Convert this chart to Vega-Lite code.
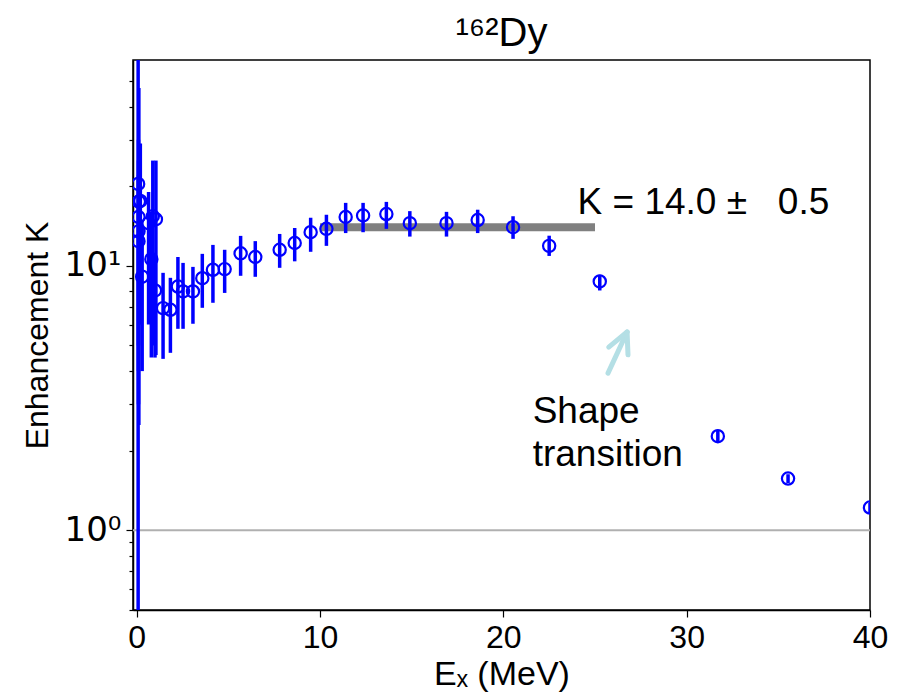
{
  "$schema": "https://vega.github.io/schema/vega-lite/v6.json",
  "autosize": "none",
  "width": 737,
  "height": 550,
  "padding": {"left": 133, "top": 60, "right": 32, "bottom": 85},
  "background": "white",
  "config": {
    "view": {"stroke": "black", "strokeWidth": 1.5},
    "font": "Liberation Sans",
    "axis": {
      "labelFont": "Liberation Sans",
      "labelFontSize": 32,
      "labelColor": "black",
      "titleFont": "Liberation Sans",
      "titleFontSize": 32,
      "titleFontWeight": "normal",
      "titleColor": "black",
      "domainColor": "black",
      "domainWidth": 1.5,
      "tickColor": "black",
      "tickWidth": 1.2,
      "grid": false
    }
  },
  "title": {
    "text": "¹⁶²Dy",
    "font": "Liberation Sans",
    "fontSize": 40,
    "fontWeight": "normal",
    "color": "black",
    "anchor": "middle",
    "offset": 6
  },
  "layer": [
    {
      "data": {"values": [{"K": 1}]},
      "mark": {"type": "rule", "color": "#b0b0b0", "strokeWidth": 2},
      "encoding": {
        "y": {
          "field": "K",
          "type": "quantitative",
          "scale": {"type": "log", "domain": [0.5, 60], "nice": false},
          "axis": {
            "title": "Enhancement K",
            "titlePadding": 10,
            "labelFont": "DejaVu Sans",
            "labelFontSize": 34,
            "values": [0.5, 0.6, 0.7, 0.8, 0.9, 1, 2, 3, 4, 5, 6, 7, 8, 9, 10, 20, 30, 40, 50],
            "labelExpr": "datum.value == 1 ? '10⁰' : (datum.value == 10 ? '10¹' : '')",
            "labelOverlap": false,
            "labelPadding": 5,
            "tickSize": {"condition": {"test": "datum.value == 1 || datum.value == 10", "value": 7}, "value": 4}
          }
        }
      }
    },
    {
      "data": {"values": [{"x": 10, "x2": 25, "K": 14}]},
      "mark": {"type": "rule", "color": "#808080", "strokeWidth": 8},
      "encoding": {
        "x": {
          "field": "x",
          "type": "quantitative",
          "scale": {"domain": [-0.2, 40], "nice": false, "zero": false},
          "axis": {
            "title": "Eₓ (MeV)",
            "titleFontSize": 34,
            "values": [0, 10, 20, 30, 40],
            "tickSize": 7,
            "labelPadding": 5,
            "titlePadding": 4,
            "labelFlush": false
          }
        },
        "x2": {"field": "x2"},
        "y": {"field": "K", "type": "quantitative"}
      }
    },
    {
      "data": {"name": "pts", "values": [
        {"x": 0.08, "K": 20.4, "lo": 0.3, "hi": 100},
        {"x": 0.12, "K": 17.5, "lo": 2.5, "hi": 47},
        {"x": 0.2, "K": 17.6, "lo": 6, "hi": 29},
        {"x": 0.1, "K": 15.3, "lo": 4, "hi": 30},
        {"x": 0.1, "K": 13.5, "lo": 5, "hi": 25},
        {"x": 0.1, "K": 12.4, "lo": 3, "hi": 22},
        {"x": 0.3, "K": 9.1, "lo": 4, "hi": 14},
        {"x": 0.65, "K": 14.5, "lo": 6, "hi": 19},
        {"x": 0.8, "K": 10.6, "lo": 4.5, "hi": 16},
        {"x": 0.88, "K": 15.4, "lo": 5, "hi": 25},
        {"x": 1.05, "K": 15.0, "lo": 4.6, "hi": 25},
        {"x": 1.0, "K": 8.07, "lo": 4.5, "hi": 11},
        {"x": 1.44, "K": 6.92, "lo": 4.45, "hi": 9.41},
        {"x": 1.84, "K": 6.82, "lo": 4.69, "hi": 9.01},
        {"x": 2.25, "K": 8.35, "lo": 5.78, "hi": 10.8},
        {"x": 2.53, "K": 8.0, "lo": 5.78, "hi": 10.26},
        {"x": 3.07, "K": 8.0, "lo": 6.04, "hi": 9.91},
        {"x": 3.58, "K": 8.98, "lo": 6.94, "hi": 11.1},
        {"x": 4.16, "K": 9.66, "lo": 7.25, "hi": 12.0},
        {"x": 4.8, "K": 9.72, "lo": 7.9, "hi": 11.5},
        {"x": 5.67, "K": 11.15, "lo": 9.17, "hi": 12.98},
        {"x": 6.47, "K": 10.8, "lo": 9.09, "hi": 12.4},
        {"x": 7.8, "K": 11.5, "lo": 9.83, "hi": 13.2},
        {"x": 8.62, "K": 12.2, "lo": 10.4, "hi": 13.9},
        {"x": 9.49, "K": 13.4, "lo": 11.3, "hi": 15.2},
        {"x": 10.35, "K": 13.8, "lo": 11.9, "hi": 15.6},
        {"x": 11.4, "K": 15.3, "lo": 13.3, "hi": 17.3},
        {"x": 12.35, "K": 15.5, "lo": 13.4, "hi": 17.3},
        {"x": 13.62, "K": 15.7, "lo": 13.8, "hi": 17.45},
        {"x": 14.9, "K": 14.5, "lo": 12.9, "hi": 16.1},
        {"x": 16.9, "K": 14.5, "lo": 12.9, "hi": 16.0},
        {"x": 18.6, "K": 14.9, "lo": 13.3, "hi": 16.3},
        {"x": 20.53, "K": 14.0, "lo": 12.65, "hi": 15.4},
        {"x": 22.5, "K": 11.9, "lo": 10.9, "hi": 13.0},
        {"x": 25.26, "K": 8.73, "lo": 8.07, "hi": 9.25},
        {"x": 31.7, "K": 2.27, "lo": 2.15, "hi": 2.4},
        {"x": 35.53, "K": 1.57, "lo": 1.51, "hi": 1.63},
        {"x": 40, "K": 1.22, "lo": 1.16, "hi": 1.27}
      ]},
      "layer": [
        {
          "mark": {"type": "rule", "color": "#0000ff", "strokeWidth": 3.5, "clip": true},
          "encoding": {
            "x": {"field": "x", "type": "quantitative"},
            "y": {"field": "lo", "type": "quantitative"},
            "y2": {"field": "hi"}
          }
        },
        {
          "mark": {"type": "point", "shape": "circle", "filled": false, "color": "#0000ff", "strokeWidth": 2.2, "size": 150, "opacity": 1, "clip": true},
          "encoding": {
            "x": {"field": "x", "type": "quantitative"},
            "y": {"field": "K", "type": "quantitative"}
          }
        }
      ]
    },
    {
      "data": {"values": [
        {"x": 25.71, "K": 3.93, "x2": 26.75, "K2": 5.62},
        {"x": 25.75, "K": 4.93, "x2": 26.75, "K2": 5.62},
        {"x": 26.8, "K": 4.61, "x2": 26.75, "K2": 5.62}
      ]},
      "mark": {"type": "rule", "color": "#b4dfe5", "strokeWidth": 5, "strokeCap": "round"},
      "encoding": {
        "x": {"field": "x", "type": "quantitative"},
        "x2": {"field": "x2"},
        "y": {"field": "K", "type": "quantitative"},
        "y2": {"field": "K2"}
      }
    },
    {
      "data": {"values": [
        {"x": 24.05, "K": 17.3, "label": "K = 14.0 ±\u00a0\u00a0\u00a00.5"},
        {"x": 21.6, "K": 2.81, "label": "Shape"},
        {"x": 21.6, "K": 1.93, "label": "transition"}
      ]},
      "mark": {"type": "text", "font": "Liberation Sans", "fontSize": 37, "align": "left", "baseline": "middle", "color": "black"},
      "encoding": {
        "x": {"field": "x", "type": "quantitative"},
        "y": {"field": "K", "type": "quantitative"},
        "text": {"field": "label"}
      }
    }
  ]
}
